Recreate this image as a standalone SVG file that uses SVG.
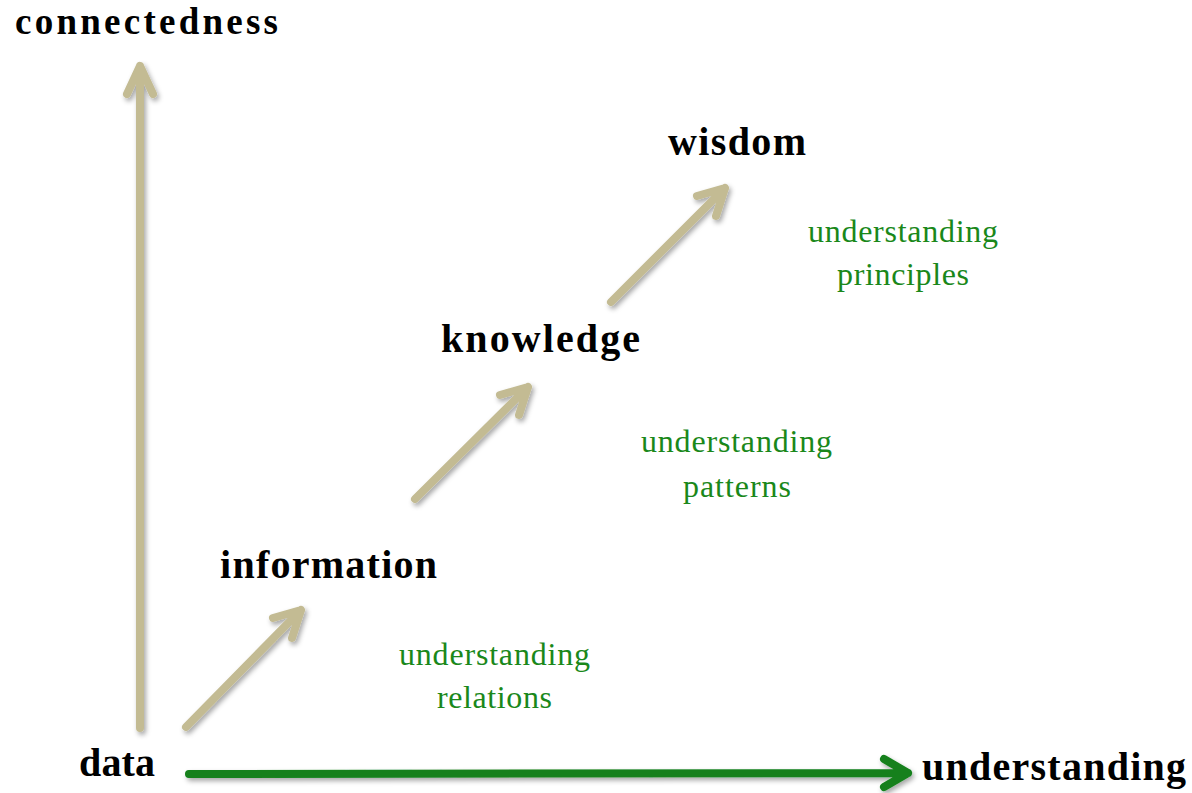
<svg xmlns="http://www.w3.org/2000/svg" width="1192" height="793" viewBox="0 0 1192 793">
<defs>
<filter id="sh" x="-20%" y="-20%" width="140%" height="140%">
<feDropShadow dx="2" dy="3" stdDeviation="2.5" flood-color="#000" flood-opacity="0.35"/>
</filter>
<style>
.tan{fill:none;stroke:#c3bb93;stroke-width:8;stroke-linecap:round;stroke-linejoin:round}
.grn{fill:none;stroke:#13801a;stroke-width:8;stroke-linecap:round;stroke-linejoin:round}
.lbl{font-family:"Liberation Serif","Times New Roman",serif;font-weight:bold;font-size:40px;fill:#000}
.sub{font-family:"Liberation Serif","Times New Roman",serif;font-size:32px;fill:#1a881a;text-anchor:middle}
</style>
</defs>
<rect width="1192" height="793" fill="#fff"/>
<g id="connectors" filter="url(#sh)">
<g id="axis-y"><path class="tan" d="M140,728 L140,66 M127,94 L140,66 L153,94"/></g>
<g id="axis-x"><path class="grn" d="M189,774 L908,773 M884,759 L908,773 L884,787"/></g>
<g id="arr1"><path class="tan" d="M186,727 L301,610 M273,618 L301,610 L292,638"/></g>
<g id="arr2"><path class="tan" d="M415,499 L528,387 M500,395 L528,387 L519,415"/></g>
<g id="arr3"><path class="tan" d="M611,302 L725,188 M697,196 L725,188 L716,216"/></g>
</g>
<g id="n-connectedness"><text class="lbl" x="15" y="34" style="font-size:37px" textLength="263">connectedness</text></g>
<g id="n-understanding"><text class="lbl" x="922" y="780" textLength="264">understanding</text></g>
<g id="n-data"><text class="lbl" x="79" y="776" textLength="76">data</text></g>
<g id="n-information"><text class="lbl" x="220" y="578" textLength="217">information</text></g>
<g id="n-knowledge"><text class="lbl" x="441" y="352" textLength="199">knowledge</text></g>
<g id="n-wisdom"><text class="lbl" x="668" y="155" textLength="138">wisdom</text></g>
<g id="l-relations"><text class="sub" x="494.5" y="665" textLength="191">understanding</text><text class="sub" x="494.5" y="708" textLength="115">relations</text></g>
<g id="l-patterns"><text class="sub" x="736.5" y="452" textLength="191">understanding</text><text class="sub" x="737" y="497" textLength="108">patterns</text></g>
<g id="l-principles"><text class="sub" x="903" y="242" textLength="190">understanding</text><text class="sub" x="903" y="285" textLength="132">principles</text></g>
</svg>
